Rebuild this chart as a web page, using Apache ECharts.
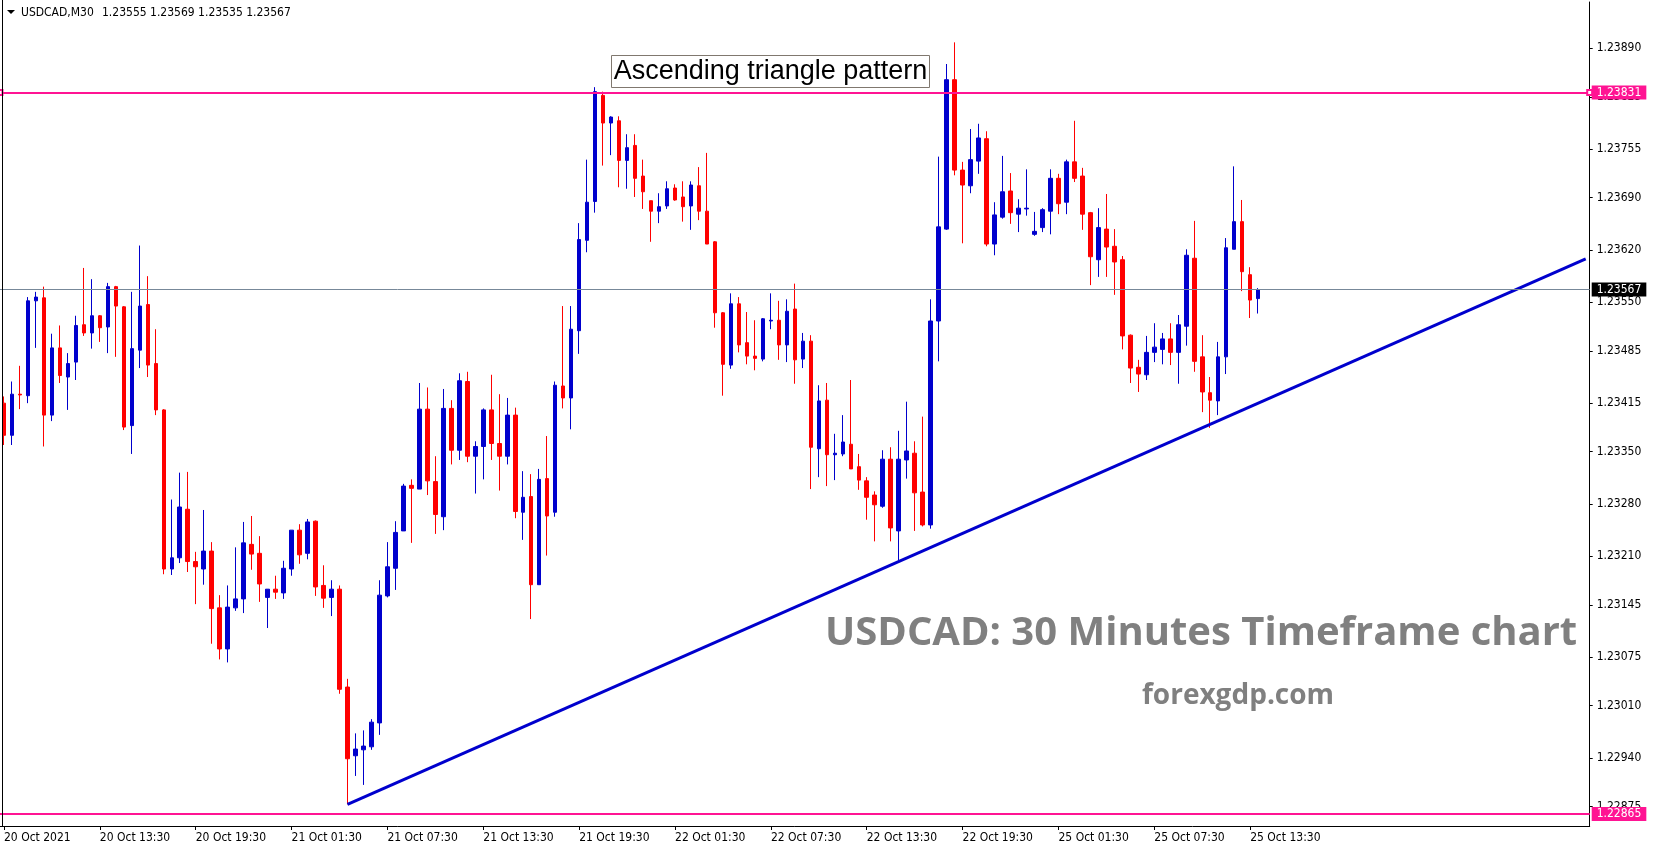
<!DOCTYPE html>
<html><head><meta charset="utf-8">
<script src="https://cdn.jsdelivr.net/npm/echarts@6/dist/echarts.min.js"></script>
<style>html,body{margin:0;padding:0;background:#fff;overflow:hidden}#c{width:1653px;height:850px}</style>
</head><body><div id="c"></div>
<script>
const symbolName = 'USDCAD,M30';
const tickLabels = ['20 Oct 2021','20 Oct 13:30','20 Oct 19:30','21 Oct 01:30','21 Oct 07:30','21 Oct 13:30','21 Oct 19:30','22 Oct 01:30','22 Oct 07:30','22 Oct 13:30','22 Oct 19:30','25 Oct 01:30','25 Oct 07:30','25 Oct 13:30'];
const priceTicks = [1.22875,1.22940,1.23010,1.23075,1.23145,1.23210,1.23280,1.23350,1.23415,1.23485,1.23550,1.23620,1.23690,1.23755,1.23825,1.23890];
const resistanceLevel = 1.23831;
const supportLevel = 1.22865;
const trendLine = [[43,1.22878],[198,1.23608]];
const totalSlots = 199;
const startTime = Date.UTC(2021,9,20,7,30);
// [open, high, low, close]
const candles = [
[1.23415,1.23424,1.23359,1.23372],[1.23372,1.23444,1.23359,1.23427],[1.23427,1.23465,1.23407,1.23426],[1.23425,1.23557,1.23415,1.23552],
[1.23552,1.23564,1.23489,1.23557],[1.23556,1.23571,1.23357,1.23399],[1.23399,1.23508,1.23391,1.23489],[1.23489,1.23519,1.23442,1.23452],
[1.23450,1.23482,1.23406,1.23468],[1.23470,1.23532,1.23446,1.23519],[1.23520,1.23596,1.23505,1.23509],[1.23509,1.23581,1.23488,1.23532],
[1.23532,1.23533,1.23497,1.23516],[1.23517,1.23576,1.23482,1.23571],[1.23571,1.23572,1.23477,1.23545],[1.23544,1.23545,1.23379,1.23383],
[1.23385,1.23564,1.23347,1.23488],[1.23486,1.23626,1.23462,1.23545],[1.23547,1.23585,1.23450,1.23466],[1.23468,1.23514,1.23399,1.23406],
[1.23406,1.23407,1.23186,1.23193],[1.23193,1.23286,1.23185,1.23208],[1.23208,1.23322,1.23201,1.23276],[1.23273,1.23323,1.23189,1.23203],
[1.23203,1.23216,1.23146,1.23196],[1.23193,1.23272,1.23172,1.23217],[1.23217,1.23229,1.23093,1.23140],[1.23141,1.23158,1.23072,1.23086],
[1.23086,1.23171,1.23068,1.23142],[1.23141,1.23222,1.23137,1.23153],[1.23153,1.23256,1.23134,1.23228],[1.23226,1.23264,1.23192,1.23213],
[1.23214,1.23237,1.23149,1.23173],[1.23155,1.23166,1.23114,1.23166],[1.23166,1.23184,1.23153,1.23162],[1.23161,1.23204,1.23153,1.23194],
[1.23193,1.23245,1.23184,1.23245],[1.23245,1.23253,1.23200,1.23212],[1.23214,1.23260,1.23206,1.23256],[1.23257,1.23258,1.23157,1.23169],
[1.23171,1.23198,1.23141,1.23154],[1.23155,1.23178,1.23130,1.23166],[1.23166,1.23171,1.23026,1.23032],[1.23035,1.23046,1.22878,1.22939],
[1.22943,1.22973,1.22916,1.22952],[1.22951,1.22977,1.22904,1.22956],[1.22955,1.22992,1.22951,1.22988],[1.22987,1.23178,1.22971,1.23158],
[1.23157,1.23229,1.23155,1.23196],[1.23194,1.23257,1.23165,1.23242],[1.23244,1.23307,1.23244,1.23304],[1.23305,1.23313,1.23228,1.23301],
[1.23300,1.23442,1.23300,1.23407],[1.23407,1.23436,1.23292,1.23311],[1.23310,1.23344,1.23240,1.23266],[1.23263,1.23434,1.23245,1.23408],
[1.23408,1.23419,1.23333,1.23352],[1.23352,1.23455,1.23339,1.23445],[1.23444,1.23457,1.23336,1.23344],[1.23344,1.23364,1.23294,1.23357],
[1.23357,1.23408,1.23313,1.23406],[1.23406,1.23453,1.23339,1.23361],[1.23361,1.23427,1.23298,1.23344],[1.23344,1.23422,1.23333,1.23399],
[1.23399,1.23409,1.23261,1.23270],[1.23269,1.23324,1.23232,1.23289],[1.23290,1.23320,1.23126,1.23172],[1.23172,1.23327,1.23172,1.23313],
[1.23314,1.23371,1.23211,1.23264],[1.23269,1.23444,1.23263,1.23439],[1.23438,1.23545,1.23408,1.23422],[1.23422,1.23545,1.23380,1.23514],
[1.23512,1.23656,1.23481,1.23634],[1.23633,1.23741,1.23617,1.23684],[1.23685,1.23838,1.23670,1.23832],[1.23827,1.23832,1.23733,1.23790],
[1.23790,1.23799,1.23747,1.23798],[1.23793,1.23799,1.23704,1.23740],[1.23740,1.23775,1.23702,1.23757],[1.23760,1.23775,1.23691,1.23716],
[1.23719,1.23741,1.23675,1.23698],[1.23686,1.23686,1.23631,1.23672],[1.23672,1.23696,1.23656,1.23678],[1.23679,1.23712,1.23675,1.23702],
[1.23703,1.23708,1.23686,1.23687],[1.23691,1.23712,1.23658,1.23678],[1.23679,1.23712,1.23647,1.23707],[1.23706,1.23731,1.23660,1.23672],
[1.23672,1.23750,1.23628,1.23628],[1.23631,1.23632,1.23516,1.23536],[1.23536,1.23537,1.23425,1.23467],[1.23466,1.23562,1.23461,1.23548],
[1.23548,1.23557,1.23483,1.23493],[1.23496,1.23537,1.23467,1.23478],[1.23478,1.23526,1.23459,1.23475],[1.23474,1.23529,1.23471,1.23528],
[1.23525,1.23562,1.23514,1.23526],[1.23526,1.23552,1.23473,1.23493],[1.23493,1.23554,1.23470,1.23538],[1.23541,1.23575,1.23441,1.23473],
[1.23474,1.23509,1.23462,1.23498],[1.23498,1.23506,1.23300,1.23356],[1.23354,1.23439,1.23316,1.23418],[1.23419,1.23442,1.23304,1.23346],
[1.23346,1.23374,1.23312,1.23348],[1.23347,1.23399,1.23344,1.23363],[1.23360,1.23446,1.23327,1.23327],[1.23330,1.23347,1.23299,1.23312],
[1.23311,1.23316,1.23259,1.23289],[1.23292,1.23297,1.23230,1.23279],[1.23277,1.23352,1.23275,1.23340],[1.23340,1.23356,1.23230,1.23248],
[1.23244,1.23378,1.23205,1.23340],[1.23339,1.23417,1.23314,1.23351],[1.23348,1.23364,1.23244,1.23295],[1.23296,1.23397,1.23250,1.23252],
[1.23252,1.23554,1.23247,1.23525],[1.23525,1.23745,1.23471,1.23651],[1.23648,1.23869,1.23647,1.23848],[1.23848,1.23898,1.23720,1.23727],
[1.23727,1.23738,1.23629,1.23707],[1.23706,1.23782,1.23696,1.23741],[1.23739,1.23789,1.23722,1.23770],[1.23769,1.23779,1.23625,1.23628],
[1.23628,1.23684,1.23613,1.23667],[1.23664,1.23746,1.23662,1.23698],[1.23699,1.23723,1.23655,1.23670],[1.23668,1.23688,1.23644,1.23676],
[1.23675,1.23728,1.23666,1.23676],[1.23641,1.23671,1.23639,1.23645],[1.23650,1.23676,1.23644,1.23674],[1.23672,1.23728,1.23641,1.23716],
[1.23716,1.23722,1.23668,1.23682],[1.23684,1.23741,1.23668,1.23738],[1.23738,1.23793,1.23711,1.23716],[1.23719,1.23730,1.23647,1.23668],
[1.23670,1.23671,1.23573,1.23611],[1.23607,1.23676,1.23584,1.23650],[1.23648,1.23695,1.23584,1.23624],[1.23625,1.23648,1.23560,1.23604],
[1.23607,1.23612,1.23487,1.23505],[1.23506,1.23507,1.23442,1.23462],[1.23463,1.23473,1.23430,1.23454],[1.23453,1.23505,1.23446,1.23483],
[1.23483,1.23522,1.23470,1.23490],[1.23487,1.23509,1.23467,1.23501],[1.23501,1.23522,1.23466,1.23483],[1.23483,1.23533,1.23441,1.23520],
[1.23518,1.23621,1.23492,1.23613],[1.23609,1.23659,1.23457,1.23471],[1.23477,1.23506,1.23403,1.23430],[1.23429,1.23450,1.23382,1.23419],
[1.23418,1.23497,1.23399,1.23477],[1.23477,1.23636,1.23454,1.23623],[1.23621,1.23732,1.23621,1.23658],[1.23658,1.23687,1.23565,1.23591],
[1.23587,1.23597,1.23529,1.23553],[1.23555,1.23569,1.23535,1.23567]
];

// time categories (30-minute bars, weekend skipped)
const months = ['Jan','Feb','Mar','Apr','May','Jun','Jul','Aug','Sep','Oct','Nov','Dec'];
const pad = n => (n < 10 ? '0' : '') + n;
const categories = [];
for (let t = startTime; categories.length < totalSlots; t += 1800000) {
  const d = new Date(t), wd = d.getUTCDay();
  if (wd === 0 || wd === 6) continue;
  categories.push(d.getUTCDate() + ' ' + months[d.getUTCMonth()] + ' ' + pad(d.getUTCHours()) + ':' + pad(d.getUTCMinutes()));
}
const last = candles[candles.length - 1];
const bidLevel = last[3];
const headerValues = last.map(v => v.toFixed(5)).join(' ');
const kData = candles.map(c => [c[0], c[3], c[2], c[1]]);

const FONT = '"DejaVu Sans Condensed", "DejaVu Sans", sans-serif';
const FS = 12;
const BLUE = '#0000cd', RED = '#ff0000', PINK = '#ff1493';
const showIdx = i => i % 12 === 0 && i < candles.length;

const chart = echarts.init(document.getElementById('c'), null, {renderer: 'canvas'});
chart.setOption({
  animation: false,
  backgroundColor: '#fff',
  grid: {left: -0.4, right: 63.3, top: 2, bottom: 24},
  xAxis: {
    type: 'category', data: categories, boundaryGap: true,
    axisLine: {show: true, lineStyle: {color: '#000', width: 1}},
    axisTick: {show: true, alignWithLabel: true, length: 4, interval: showIdx, lineStyle: {color: '#000'}},
    axisLabel: {interval: showIdx, formatter: (v, i) => tickLabels[i / 12] || '', align: 'left',
      color: '#000', fontFamily: FONT, fontSize: FS, margin: 6},
    splitLine: {show: false}
  },
  yAxis: {
    type: 'value', position: 'right', min: 1.22849, max: 1.23952, scale: true,
    axisLine: {show: true, lineStyle: {color: '#000', width: 1}},
    axisTick: {show: true, length: 3, customValues: priceTicks, lineStyle: {color: '#000'}},
    axisLabel: {customValues: priceTicks, formatter: v => v.toFixed(5), color: '#000', fontFamily: FONT, fontSize: FS, margin: 7},
    splitLine: {show: false}
  },
  series: [
    {
      type: 'candlestick', data: kData, barWidth: 4,
      itemStyle: {color: BLUE, color0: RED, borderColor: BLUE, borderColor0: RED, borderWidth: 1},
      emphasis: {disabled: true},
      markLine: {
        silent: true, symbol: ['none', 'none'], animation: false, precision: 5,
        data: [
          {yAxis: bidLevel, lineStyle: {color: '#778899', width: 1, type: 'solid'},
           label: {show: true, position: 'end', distance: 2, formatter: bidLevel.toFixed(5), color: '#fff',
             backgroundColor: '#000', padding: [1, 5, 1, 5], fontFamily: FONT, fontSize: FS}},
          {yAxis: supportLevel, lineStyle: {color: PINK, width: 2, type: 'solid'},
           label: {show: true, position: 'end', distance: 2, formatter: supportLevel.toFixed(5), color: '#fff',
             backgroundColor: PINK, padding: [1, 5, 1, 5], fontFamily: FONT, fontSize: FS}}
        ]
      }
    },
    {
      type: 'line', data: trendLine, symbol: 'none', silent: true,
      lineStyle: {color: BLUE, width: 3}, z: 3,
      markLine: {
        silent: true, symbol: ['emptyRect', 'emptyRect'], symbolSize: 5, animation: false, precision: 5,
        data: [
          {yAxis: resistanceLevel, lineStyle: {color: PINK, width: 2, type: 'solid'},
           label: {show: true, position: 'end', distance: 2, formatter: resistanceLevel.toFixed(5), color: '#fff',
             backgroundColor: PINK, padding: [1, 5, 1, 5], fontFamily: FONT, fontSize: FS}}
        ]
      }
    }
  ],
  graphic: [
    {type: 'line', z: 100, silent: true, shape: {x1: 2.5, y1: 0, x2: 2.5, y2: 826}, style: {stroke: '#000', lineWidth: 1}},
    {type: 'polygon', silent: true, shape: {points: [[7, 10], [15, 10], [11, 14]]}, style: {fill: '#000'}},
    {type: 'text', silent: true, x: 21, y: 13, style: {text: symbolName, font: FS + 'px ' + FONT, fill: '#000', verticalAlign: 'middle'}},
    {type: 'text', silent: true, x: 102, y: 13, style: {text: headerValues, font: FS + 'px ' + FONT, fill: '#000', verticalAlign: 'middle'}},
    {type: 'rect', silent: true, shape: {x: 611.5, y: 55.5, width: 318, height: 32}, style: {fill: '#fff', stroke: '#80786f', lineWidth: 1}},
    {type: 'text', silent: true, x: 770.5, y: 72, style: {text: 'Ascending triangle pattern', font: '27px "Liberation Sans", Arial, sans-serif', fill: '#000', align: 'center', verticalAlign: 'middle'}},
    {type: 'text', silent: true, x: 825, y: 634, style: {text: 'USDCAD: 30 Minutes Timeframe chart', font: 'bold 40px "Open Sans", sans-serif', fill: '#808080', verticalAlign: 'middle'}},
    {type: 'text', silent: true, x: 1142, y: 696, style: {text: 'forexgdp.com', font: 'bold 28px "Open Sans", sans-serif', fill: '#808080', verticalAlign: 'middle'}}
  ]
});
</script>
</body></html>
